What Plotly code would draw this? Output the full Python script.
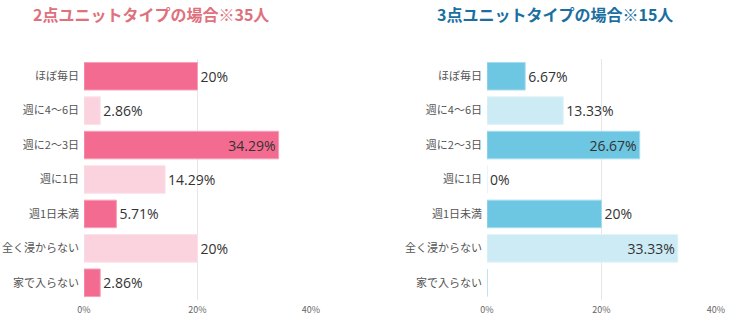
import plotly.graph_objects as go

categories = ["ほぼ毎日", "週に4～6日", "週に2～3日", "週に1日", "週1日未満", "全く浸からない", "家で入らない"]
values_2pt = [20, 2.86, 34.29, 14.29, 5.71, 20, 2.86]
values_3pt = [6.67, 13.33, 26.67, 0, 20, 33.33, 0]
labels_2pt = ["20%", "2.86%", "34.29%", "14.29%", "5.71%", "20%", "2.86%"]
labels_3pt = ["6.67%", "13.33%", "26.67%", "0%", "20%", "33.33%", ""]
title_2pt = "2点ユニットタイプの場合※35人"
title_3pt = "3点ユニットタイプの場合※15人"
x_ticks = [0, 20, 40]
x_tick_labels = ["0%", "20%", "40%"]

pink = ["#F36B90", "#FAD3DF"]
blue = ["#6DC6E2", "#CDEBF5"]
pink_line = ["#F7A0B8", "#FBE0E8"]
blue_line = ["#A5DBEE", "#E0F3F9"]

def positions(vals, limit):
    return ["inside" if v > limit else "outside" for v in vals]

fig = go.Figure()
fig.add_trace(go.Bar(
    x=values_2pt, y=categories, orientation="h",
    marker=dict(color=[pink[i % 2] for i in range(len(categories))],
                line=dict(color=[pink_line[i % 2] for i in range(len(categories))], width=1)),
    text=labels_2pt, textposition=positions(values_2pt, 30),
    insidetextanchor="end",
    textfont=dict(family="Open Sans, Noto Sans", size=14, color="#333333"),
    cliponaxis=False, xaxis="x", yaxis="y", showlegend=False, hoverinfo="skip",
))
fig.add_trace(go.Bar(
    x=values_3pt, y=categories, orientation="h",
    marker=dict(color=[blue[i % 2] for i in range(len(categories))],
                line=dict(color=[blue_line[i % 2] for i in range(len(categories))], width=1)),
    text=labels_3pt, textposition=positions(values_3pt, 25),
    insidetextanchor="end",
    textfont=dict(family="Open Sans, Noto Sans", size=14, color="#333333"),
    cliponaxis=False, xaxis="x2", yaxis="y2", showlegend=False, hoverinfo="skip",
))

W, H = 743, 326
ydom = [1 - 300 / H, 1 - 59 / H]
axis_x = dict(range=[0, 40], tickvals=x_ticks, ticktext=x_tick_labels,
              showgrid=True, gridcolor="#E6E6E6", gridwidth=1, zeroline=False,
              showline=False, ticks="", ticklabelstandoff=3, automargin=False,
              tickfont=dict(family="Noto Sans CJK JP", size=9, color="#666666"),
              fixedrange=True)
axis_y = dict(autorange="reversed", showgrid=False, showline=False, ticks="",
              ticklabelstandoff=4, automargin=False,
              tickfont=dict(family="Noto Sans CJK JP", size=11, color="#555555"),
              domain=ydom)

fig.update_layout(
    width=W, height=H, margin=dict(l=0, r=0, t=0, b=0, autoexpand=False),
    paper_bgcolor="white", plot_bgcolor="white",
    bargap=0.2,
    xaxis=dict(axis_x, domain=[84 / W, 311 / W], anchor="y"),
    yaxis=dict(axis_y, anchor="x"),
    xaxis2=dict(axis_x, domain=[487 / W, 716 / W], anchor="y2"),
    yaxis2=dict(axis_y, anchor="x2"),
    annotations=[
        dict(text="<b>" + title_2pt + "</b>", x=151 / W, y=1 - 14 / H, xref="paper", yref="paper",
             xanchor="center", yanchor="middle", showarrow=False,
             font=dict(family="Noto Sans CJK JP", size=16, color="#E0707C")),
        dict(text="<b>" + title_3pt + "</b>", x=555 / W, y=1 - 14 / H, xref="paper", yref="paper",
             xanchor="center", yanchor="middle", showarrow=False,
             font=dict(family="Noto Sans CJK JP", size=16, color="#1B6FA0")),
    ],
)

fig.write_html("out.html")
